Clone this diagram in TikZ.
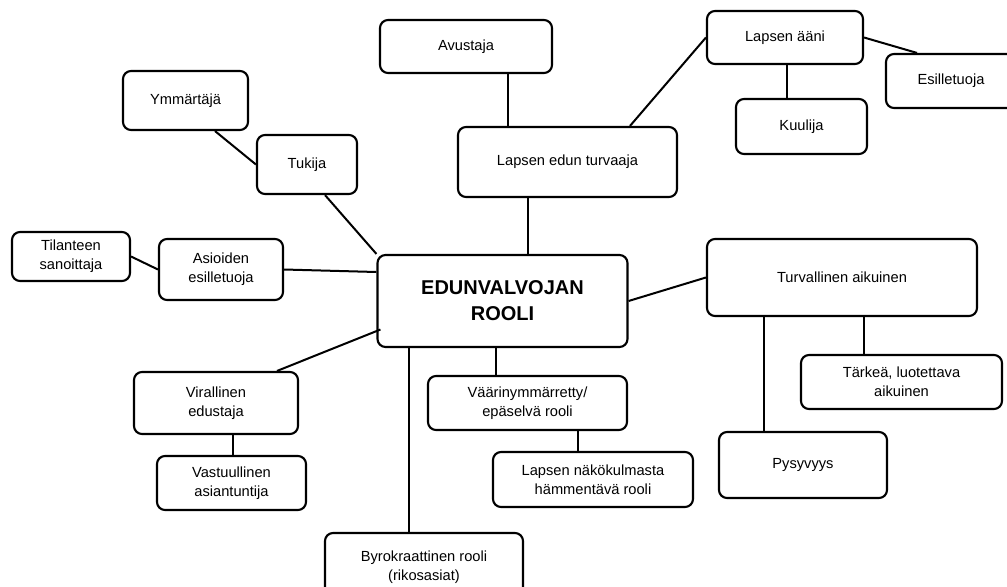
\documentclass[tikz,border=0pt]{standalone}
\usepackage{fontspec}
\setmainfont{Liberation Sans}
\usetikzlibrary{calc}
\begin{document}
\begin{tikzpicture}[x=0.75pt,y=-0.75pt]
    % Styles
    \tikzstyle{role box} = [draw,rounded corners=6pt,line width=1.6pt,align=center,
        inner sep=2pt,font=\fontsize{11}{14.5}\selectfont]
    \tikzstyle{main box} = [role box,font=\fontsize{15}{19.5}\selectfont\bfseries]
    \tikzstyle{link} = [line width=1.5pt]
    \tikzset{wh/.style 2 args={minimum width=#1*0.75pt,minimum height=#2*0.75pt}}

    \useasboundingbox (0,0) rectangle (1007,586);

    %%% Centre
    \node[main box,wh={250}{92}] (rooli) at (502.5,301) {EDUNVALVOJAN\\ROOLI};

    %%% Upper branches
    \node[role box,wh={172}{53}] (avustaja) at (466,46.5) {Avustaja};
    \node[role box,wh={219}{70}] (turvaaja) at (567.5,162) {Lapsen edun turvaaja};
    \node[role box,wh={156}{53}] (aani) at (785,37.5) {Lapsen ääni};
    \node[role box,wh={131}{55}] (kuulija) at (801.5,126.5) {Kuulija};
    \node[role box,wh={130}{54}] (esilletuoja) at (951,81) {Esilletuoja};

    \node[role box,wh={125}{59}] (ymmartaja) at (185.5,100.5) {Ymmärtäjä};
    \node[role box,wh={100}{59}] (tukija) at (307,164.5) {Tukija};
    \node[role box,wh={118}{49}] (sanoittaja) at (71,256.5) {Tilanteen\\sanoittaja};
    \node[role box,wh={124}{61}] (asioiden) at (221,269.5) {Asioiden\\esilletuoja};

    %%% Lower branches
    \node[role box,wh={164}{62}] (virallinen) at (216,403) {Virallinen\\edustaja};
    \node[role box,wh={149}{54}] (vastuullinen) at (231.5,483) {Vastuullinen\\asiantuntija};
    \node[role box,wh={198}{68}] (byrokraatti) at (424,567) {Byrokraattinen rooli\\(rikosasiat)};
    \node[role box,wh={199}{54}] (vaarin) at (527.5,403) {Väärinymmärretty/\\epäselvä rooli};
    \node[role box,wh={200}{55}] (nakokulma) at (593,479.5) {Lapsen näkökulmasta\\hämmentävä rooli};

    \node[role box,wh={270}{77}] (turvallinen) at (842,277.5) {Turvallinen aikuinen};
    \node[role box,wh={201}{54}] (tarkea) at (901.5,382) {Tärkeä, luotettava\\aikuinen};
    \node[role box,wh={168}{66}] (pysyvyys) at (803,465) {Pysyvyys};

    %%% Links
    \draw[link] ($(ymmartaja.south)+(29.5,0)$) -- (tukija.west);
    \draw[link] ($(tukija.south)+(18,0)$) -- (rooli.north west);
    \draw[link] (sanoittaja.east) -- (asioiden.west);
    \draw[link] (asioiden.east) -- ($(rooli.west)+(0,-29)$);

    \draw[link] ($(avustaja.south)+(42,0)$) coordinate (a1) -- (a1 |- turvaaja.north);
    \draw[link] ($(turvaaja.north)+(62.5,0)$) -- (aani.west);
    \draw[link] (aani.east) -- ($(esilletuoja.north)+(-34,0)$);
    \draw[link] ($(aani.south)+(2,0)$) coordinate (a2) -- (a2 |- kuulija.north);
    \draw[link] ($(turvaaja.south)+(-39.5,0)$) coordinate (a3) -- (a3 |- rooli.north);
    \draw[link] (rooli.east) -- (turvallinen.west);

    \draw[link] ($(rooli.west)+(4,28.5)$) -- ($(virallinen.north)+(61,0)$);
    \draw[link] ($(virallinen.south)+(17,0)$) coordinate (a4) -- (a4 |- vastuullinen.north);
    \draw[link] ($(byrokraatti.north)+(-15,0)$) coordinate (a5) -- (a5 |- rooli.south);
    \draw[link] ($(vaarin.north)+(-31.5,0)$) coordinate (a6) -- (a6 |- rooli.south);
    \draw[link] ($(vaarin.south)+(50.5,0)$) coordinate (a7) -- (a7 |- nakokulma.north);

    \draw[link] ($(turvallinen.south)+(22,0)$) coordinate (a8) -- (a8 |- tarkea.north);
    \draw[link] ($(pysyvyys.north)+(-39,0)$) coordinate (a9) -- (a9 |- turvallinen.south);
\end{tikzpicture}
\end{document}
